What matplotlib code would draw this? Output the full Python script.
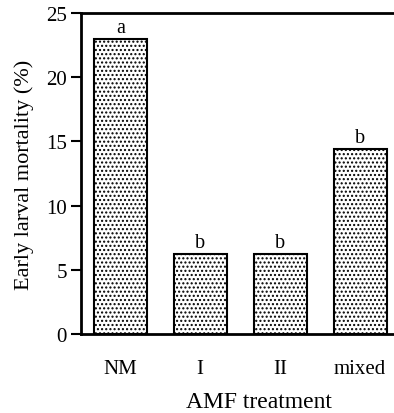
import matplotlib
matplotlib.use("Agg")
import matplotlib.pyplot as plt

categories = ["NM", "I", "II", "mixed"]
mortality = [23.0, 6.2, 6.2, 14.4]
letters = ["a", "b", "b", "b"]
yticks = [0, 5, 10, 15, 20, 25]

plt.rcParams['font.family'] = ['Liberation Serif', 'DejaVu Serif']
plt.rcParams['hatch.linewidth'] = 1.0
plt.rcParams['hatch.color'] = '#222222'

fig = plt.figure(figsize=(3.94, 4.14), dpi=100)
ax = fig.add_axes([81/394, 1 - 335/414, (393-81)/394, 321/414])

x = range(len(categories))
ax.bar(x, mortality, width=0.66, color='white', edgecolor='black',
       linewidth=1.5, hatch='....')
for xi, v, l in zip(x, mortality, letters):
    ax.text(xi, v + 0.15, l, ha='center', va='bottom', fontsize=14.5)

ax.set_xlim(-0.49, 3.41)
ax.set_ylim(0, 25)
ax.set_yticks(yticks)
ax.set_xticks(list(x))
ax.set_xticklabels(categories, fontsize=15)
ax.tick_params(axis='y', direction='out', length=7, width=1.5, labelsize=15, pad=3)
ax.tick_params(axis='x', length=0, pad=18)
for s in ['left', 'top', 'bottom']:
    ax.spines[s].set_linewidth(2)
ax.spines['right'].set_visible(False)
ax.set_ylabel("Early larval mortality (%)", fontsize=16)
ax.yaxis.set_label_coords(-0.15, 0.5)
ax.set_xlabel("AMF treatment", fontsize=17)
ax.xaxis.set_label_coords(0.571, -0.178)

fig.savefig("out.png", dpi=100)
